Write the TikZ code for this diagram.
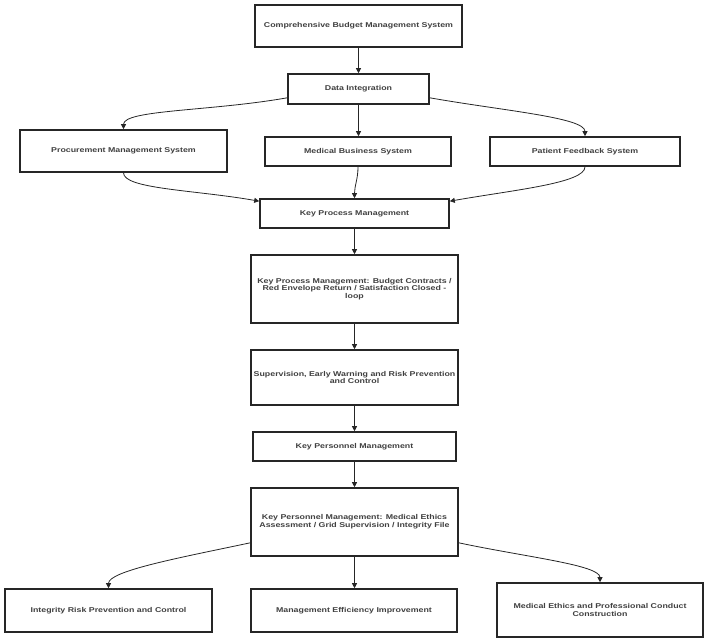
\documentclass[tikz,border=0pt]{standalone}
\usepackage{fontspec}
\usetikzlibrary{arrows.meta}
\newfontfamily\boxfont[FakeStretch=1.26]{Liberation Sans Bold}
\tikzset{
  box/.style={draw=black!85, line width=1.6pt, fill=white, align=center, inner sep=1pt,
    font=\boxfont\fontsize{7}{7.7}\selectfont, text=black!75},
  arr/.style={draw=black!85, line width=0.8pt, -{Triangle[length=5pt,width=5pt]}}
}
\begin{document}
\begin{tikzpicture}[x=1pt,y=1pt]
\useasboundingbox (0,0) rectangle (708,-643);
\node[box, minimum width=207pt, minimum height=42pt] (n1) at (358.5,-26) {Comprehensive Budget Management System};
\node[box, minimum width=141pt, minimum height=30pt] (di) at (358.5,-89) {Data Integration};
\node[box, minimum width=207pt, minimum height=42pt] (pm) at (123.5,-151) {Procurement Management System};
\node[box, minimum width=186pt, minimum height=29pt] (mb) at (358,-151.5) {Medical Business System};
\node[box, minimum width=190pt, minimum height=29pt] (pf) at (585,-151.5) {Patient Feedback System};
\node[box, minimum width=189pt, minimum height=29pt] (kpm) at (354.5,-213.5) {Key Process Management};
\node[box, minimum width=207pt, minimum height=68pt] (kpb) at (354.5,-289) {Key Process Management: Budget Contracts /\\Red Envelope Return / Satisfaction Closed -\\loop};
\node[box, minimum width=207pt, minimum height=55pt] (sup) at (354.5,-377.5) {Supervision, Early Warning and Risk Prevention\\and Control};
\node[box, minimum width=203pt, minimum height=29pt] (kper) at (354.5,-446.5) {Key Personnel Management};
\node[box, minimum width=207pt, minimum height=68pt] (kpe) at (354.5,-522) {Key Personnel Management: Medical Ethics\\Assessment / Grid Supervision / Integrity File};
\node[box, minimum width=207pt, minimum height=43pt] (ir) at (108.5,-610.5) {Integrity Risk Prevention and Control};
\node[box, minimum width=206pt, minimum height=43pt] (me) at (354,-610.5) {Management Efficiency Improvement};
\node[box, minimum width=206pt, minimum height=54pt] (mep) at (600,-610) {Medical Ethics and Professional Conduct\\Construction};

\draw[arr] (n1.south) -- (di.north);
\draw[arr] ([yshift=7pt]di.south west) to[out=190, in=90, out looseness=1.2, in looseness=0.3] (pm.north);
\draw[arr] (di.south) -- (di.south |- mb.north);
\draw[arr] ([yshift=7pt]di.south east) to[out=-10, in=90, out looseness=1.2, in looseness=0.3] (pf.north);
\draw[arr] (pm.south) to[out=-90, in=170, out looseness=0.3, in looseness=1.2] ([yshift=-3pt]kpm.north west);
\draw[arr] (mb.south) to[out=-90, in=90] (kpm.north);
\draw[arr] (pf.south) to[out=-90, in=10, out looseness=0.3, in looseness=1.2] ([yshift=-3pt]kpm.north east);
\draw[arr] (kpm.south) -- (kpb.north);
\draw[arr] (kpb.south) -- (sup.north);
\draw[arr] (sup.south) -- (kper.north);
\draw[arr] (kper.south) -- (kpe.north);
\draw[arr] ([yshift=14pt]kpe.south west) to[out=192, in=90, out looseness=1.2, in looseness=0.3] (ir.north);
\draw[arr] (kpe.south) -- (kpe.south |- me.north);
\draw[arr] ([yshift=14pt]kpe.south east) to[out=-12, in=90, out looseness=1.2, in looseness=0.3] (mep.north);
\end{tikzpicture}
\end{document}
